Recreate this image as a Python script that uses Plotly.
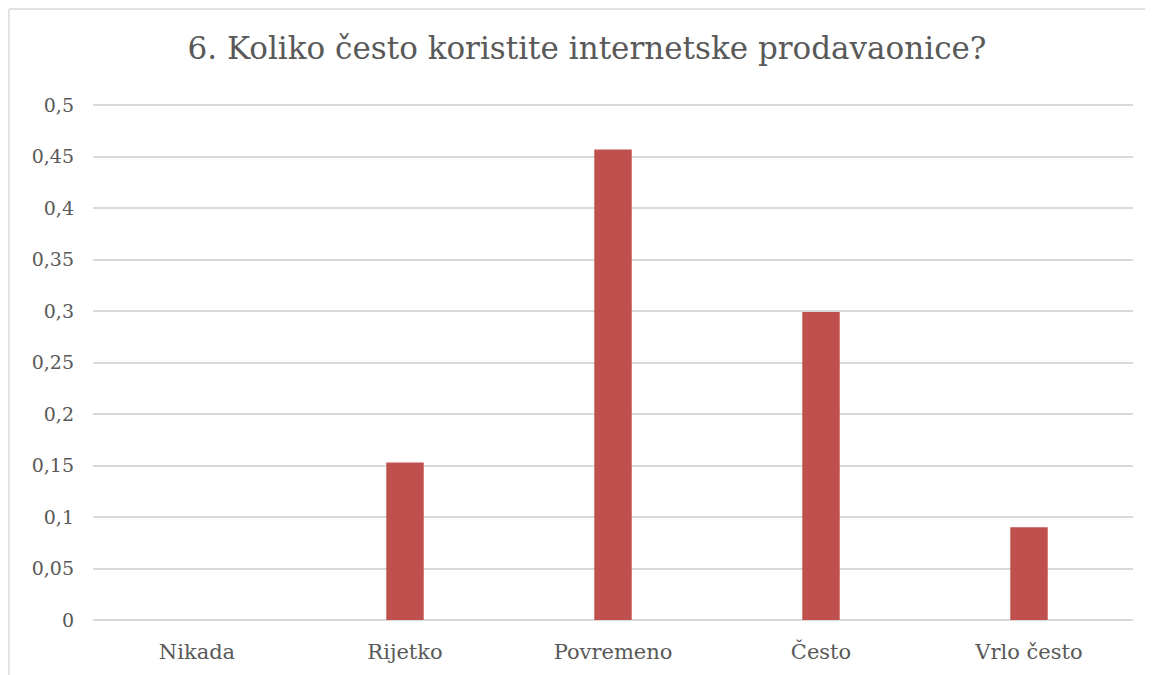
import plotly.graph_objects as go

categories = ["Nikada", "Rijetko", "Povremeno", "Često", "Vrlo često"]
values = [0.0, 0.153, 0.457, 0.299, 0.090]
tick_vals = [0, 0.05, 0.1, 0.15, 0.2, 0.25, 0.3, 0.35, 0.4, 0.45, 0.5]
tick_text = [f"{v:g}".replace(".", ",") for v in tick_vals]
title_text = "6. Koliko često koristite internetske prodavaonice?"

Y_MAX = 0.505
OFF = 8  # page body margin
W, H = 1153 - OFF, 675 - OFF
L, R, B = 93 - OFF, 20, 55
ph = 515 * Y_MAX / 0.5
T = int(round(H - B - ph))
pw = W - L - R
ph = H - T - B

def px_x(p):
    return (p - OFF - L) / pw

def px_y(p):
    return (H - B - (p - OFF)) / ph

FONT = "DejaVu Serif"
GREY = "#595959"
GRID = "#D9D9D9"

fig = go.Figure(go.Bar(
    x=categories, y=values,
    marker=dict(color="#C0504D", line=dict(width=0)),
    hoverinfo="skip",
))

fig.update_layout(
    width=W, height=H,
    margin=dict(l=L, r=R, t=T, b=B),
    paper_bgcolor="white", plot_bgcolor="white",
    bargap=0.82,
    showlegend=False,
    title=dict(text=title_text, x=(587 - OFF) / W, xanchor="center",
               y=1 - (48 - OFF) / H, yanchor="middle", yref="container",
               font=dict(family=FONT, size=31, color=GREY)),
    font=dict(family=FONT, color=GREY),
    xaxis=dict(showgrid=False, showline=False, zeroline=False,
               tickfont=dict(family=FONT, size=21, color=GREY),
               ticklabelstandoff=17),
    yaxis=dict(range=[0, Y_MAX], tickvals=tick_vals, ticktext=tick_text,
               showgrid=True, gridcolor=GRID, gridwidth=1.5,
               zeroline=True, zerolinecolor=GRID, zerolinewidth=1.5,
               showline=False,
               tickfont=dict(family=FONT, size=19, color=GREY),
               ticklabelstandoff=18),
)

# chart frame (left and top edges visible)
fig.add_shape(type="line", xref="paper", yref="paper",
              x0=px_x(9), x1=px_x(9), y0=px_y(9), y1=px_y(680),
              line=dict(color=GRID, width=1.5))
fig.add_shape(type="line", xref="paper", yref="paper",
              x0=px_x(9), x1=px_x(1160), y0=px_y(9), y1=px_y(9),
              line=dict(color=GRID, width=1.5))

fig.write_html("out.html")
